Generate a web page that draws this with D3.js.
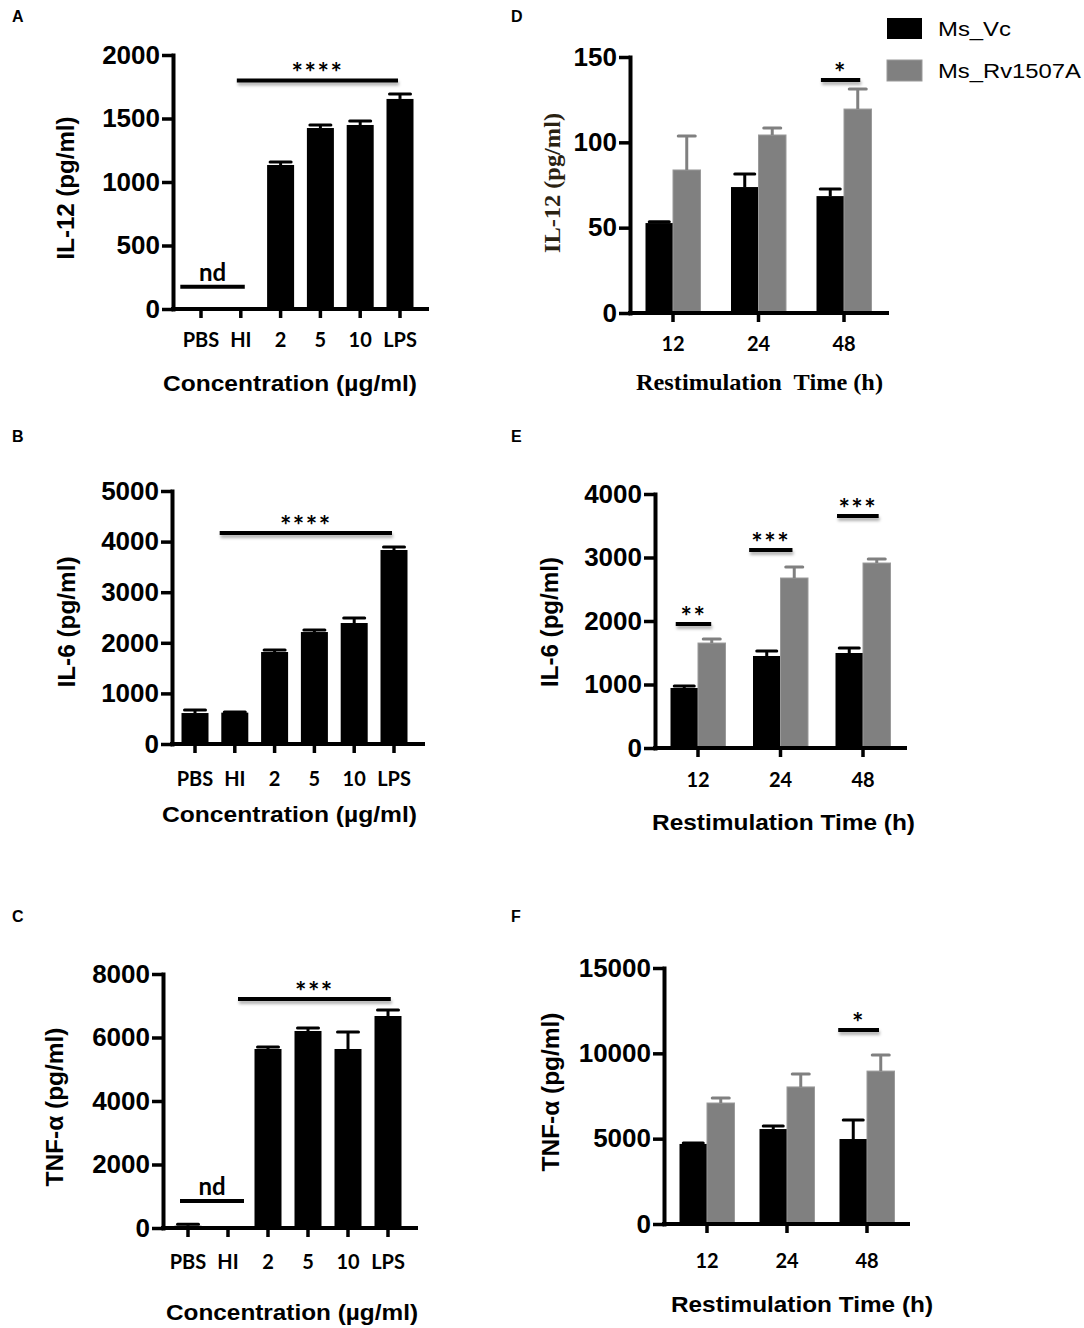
<!DOCTYPE html>
<html>
<head>
<meta charset="utf-8">
<script src="https://cdn.jsdelivr.net/npm/d3@7"></script>
<style>
  body { margin: 0; background: #fff; }
  svg { display: block; }
  .tick text { font-family: "Liberation Sans", Arial, sans-serif; font-weight: bold; }
</style>
</head>
<body>
<div id="chart"></div>
<script>
// ---- data ----
var concCats = ["PBS", "HI", "2", "5", "10", "LPS"];
var timeCats = ["12", "24", "48"];
var seriesNames = ["Ms_Vc", "Ms_Rv1507A"];

// A: IL-12 vs concentration
var il12Conc = [0, 0, 1134, 1425, 1449, 1654];
var il12ConcErr = [0, 0, 23, 24, 31, 39];
var il12Ticks = [0, 500, 1000, 1500, 2000];

// B: IL-6 vs concentration
var il6Conc = [612, 620, 1818, 2213, 2391, 3834];
var il6ConcErr = [60, 10, 40, 40, 99, 59];
var il6Ticks = [0, 1000, 2000, 3000, 4000, 5000];

// C: TNF-a vs concentration
var tnfConc = [70, 0, 5638, 6205, 5638, 6677];
var tnfConcErr = [50, 0, 62, 95, 535, 189];
var tnfTicks = [0, 2000, 4000, 6000, 8000];

// D: IL-12 vs time
var il12Vc = [52.7, 73.8, 68.5];
var il12VcErr = [0.8, 7.6, 4.1];
var il12Rv = [83.8, 104.3, 119.5];
var il12RvErr = [19.9, 4.1, 11.7];
var il12TimeTicks = [0, 50, 100, 150];

// E: IL-6 vs time
var il6Vc = [945, 1449, 1496];
var il6VcErr = [30, 79, 79];
var il6Rv = [1653, 2677, 2913];
var il6RvErr = [64, 173, 63];
var il6TimeTicks = [0, 1000, 2000, 3000, 4000];

// F: TNF-a vs time
var tnfVc = [4690, 5565, 4980];
var tnfVcErr = [60, 175, 1110];
var tnfRv = [7090, 8030, 8960];
var tnfRvErr = [290, 760, 940];
var tnfTimeTicks = [0, 5000, 10000, 15000];

// significance bars: x1/x2 in category index units, y in data units
var sigA = [{ x1: 0.9, x2: 4.95, y: 1800, label: "****" }, { x1: -0.52, x2: 1.1, y: 175, label: "nd" }];
var sigB = [{ x1: 0.62, x2: 4.95, y: 4170, label: "****" }];
var sigC = [{ x1: 1.25, x2: 5.07, y: 7213, label: "***" }, { x1: -0.2, x2: 1.4, y: 850, label: "nd" }];
var sigD = [{ x1: 1.73, x2: 2.19, y: 136.5, label: "*" }];
var sigE = [{ x1: -0.27, x2: 0.16, y: 1953, label: "**" },
            { x1: 0.62, x2: 1.145, y: 3118, label: "***" },
            { x1: 1.685, x2: 2.19, y: 3654, label: "***" }];
var sigF = [{ x1: 1.64, x2: 2.15, y: 11360, label: "*" }];

var colors = ["#000000", "#808080"];

// ---- drawing ----
var svg = d3.select("#chart").append("svg")
  .attr("width", 1084)
  .attr("height", 1328);

// user-space filter region, a horizontal line has a zero-height bbox
var defs = svg.append("defs");
defs.append("filter").attr("id", "shadow")
  .attr("filterUnits", "userSpaceOnUse")
  .attr("x", 0).attr("y", 0).attr("width", 1084).attr("height", 1328)
  .append("feDropShadow")
  .attr("dx", 1).attr("dy", 3).attr("stdDeviation", 1.4)
  .attr("flood-color", "#000").attr("flood-opacity", 0.3);

var sansFont = "'Liberation Sans', Arial, sans-serif";
var labelFont = "Lato, 'Open Sans', sans-serif";
var serifFont = "'Liberation Serif', 'Times New Roman', serif";

function bandFor(cats, first, last, bw) {
  var step = (last - first) / (cats.length - 1);
  var p = 1 - bw / step;
  return d3.scaleBand().domain(cats)
    .range([first - step / 2, last + step / 2])
    .paddingInner(p).paddingOuter(p / 2);
}

function drawAxes(g, p, x, y) {
  // y axis
  var yAxis = g.append("g")
    .attr("transform", `translate(${p.yAxisX},0)`)
    .call(d3.axisLeft(y).tickValues(p.ticks).tickSize(11).tickSizeOuter(0).tickPadding(2)
      .tickFormat(d3.format("d")));
  yAxis.select(".domain").attr("stroke-width", 4).attr("stroke-linecap", "square");
  yAxis.selectAll(".tick line").attr("stroke-width", 3.5);
  yAxis.selectAll(".tick text").attr("font-size", 26).attr("fill", "#000");

  // x axis
  var xAxis = g.append("g")
    .attr("transform", `translate(0,${p.y0})`)
    .call(d3.axisBottom(x).tickSize(9).tickSizeOuter(0));
  xAxis.select(".domain").remove();
  xAxis.selectAll(".tick line").attr("stroke-width", 3.5);
  xAxis.selectAll(".tick text")
    .attr("y", p.labelDy).attr("dy", 0)
    .style("font-family", labelFont).style("font-weight", 700)
    .attr("font-size", 20).attr("fill", "#000");
  g.append("line")
    .attr("x1", p.yAxisX).attr("x2", p.xRight)
    .attr("y1", p.y0).attr("y2", p.y0)
    .attr("stroke", "#000").attr("stroke-width", 4).attr("stroke-linecap", "square");
}

function drawTitles(g, p) {
  g.append("text")
    .attr("x", p.panelX).attr("y", p.panelY)
    .style("font-family", sansFont).style("font-weight", "bold")
    .attr("font-size", 16).text(p.letter);

  g.append("text")
    .attr("x", p.xt[0]).attr("y", p.xt[1])
    .attr("textLength", p.xt[2]).attr("lengthAdjust", "spacingAndGlyphs")
    .style("font-family", p.serif ? serifFont : sansFont).style("font-weight", "bold")
    .attr("font-size", p.serif ? 23 : 22)
    .attr("xml:space", "preserve")
    .text(p.xTitle);

  g.append("text")
    .attr("transform", `translate(${p.yt[0]},${p.yt[1]}) rotate(-90)`)
    .attr("text-anchor", "middle")
    .attr("textLength", p.yt[2]).attr("lengthAdjust", "spacingAndGlyphs")
    .style("font-family", p.serif ? serifFont : sansFont).style("font-weight", "bold")
    .attr("font-size", 24)
    .attr("fill", p.serif ? "#2a2212" : "#000")
    .text(p.yTitle);
}

function drawSig(g, sigs, xi, y) {
  sigs.forEach(function (s) {
    var yy = y(s.y);
    g.append("line")
      .attr("x1", xi(s.x1)).attr("x2", xi(s.x2))
      .attr("y1", yy).attr("y2", yy)
      .attr("stroke", "#000").attr("stroke-width", 4)
      .attr("filter", s.label === "nd" ? null : "url(#shadow)");
    var t = g.append("text")
      .attr("x", (xi(s.x1) + xi(s.x2)) / 2)
      .attr("text-anchor", "middle")
      .style("font-family", labelFont).style("font-weight", 700)
      .text(s.label);
    if (s.label === "nd") {
      t.attr("y", yy - 6).attr("font-size", 24);
    } else {
      t.attr("y", yy + 2).attr("font-size", 27).attr("letter-spacing", 1.5);
    }
  });
}

function errBar(g, cx, yTop, yEnd, color, capW) {
  g.append("line")
    .attr("x1", cx).attr("x2", cx).attr("y1", yTop).attr("y2", yEnd)
    .attr("stroke", color).attr("stroke-width", 3);
  g.append("line")
    .attr("x1", cx - capW / 2).attr("x2", cx + capW / 2).attr("y1", yEnd).attr("y2", yEnd)
    .attr("stroke", color).attr("stroke-width", 3).attr("stroke-linecap", "round");
}

function drawSingle(p) {
  var g = svg.append("g");
  var x = bandFor(p.cats, p.first, p.last, 27);
  var xi = d3.scaleLinear().domain([0, p.cats.length - 1]).range([p.first, p.last]);
  var y = d3.scaleLinear().domain([0, d3.max(p.ticks)]).range([p.y0, p.yTop]);

  var data = p.cats.map(function (c, i) { return { cat: c, v: p.values[i], e: p.errs[i] }; });

  g.selectAll("rect.bar").data(data).enter().append("rect")
    .attr("class", "bar")
    .attr("x", d => x(d.cat))
    .attr("width", x.bandwidth())
    .attr("y", d => y(d.v))
    .attr("height", d => y(0) - y(d.v))
    .attr("fill", "#000");

  data.forEach(function (d) {
    if (d.e > 0) errBar(g, x(d.cat) + x.bandwidth() / 2, y(d.v), y(d.v + d.e), "#000", 21);
  });

  drawAxes(g, p, x, y);
  drawSig(g, p.sig, xi, y);
  drawTitles(g, p);
}

function drawGrouped(p) {
  var g = svg.append("g");
  var x = bandFor(p.cats, p.first, p.last, 55);
  var xs = d3.scaleBand().domain(seriesNames).range([0, x.bandwidth()]).padding(0);
  var xi = d3.scaleLinear().domain([0, p.cats.length - 1]).range([p.first, p.last]);
  var y = d3.scaleLinear().domain([0, d3.max(p.ticks)]).range([p.y0, p.yTop]);

  var data = [];
  p.cats.forEach(function (c, i) {
    data.push({ cat: c, s: seriesNames[0], v: p.vc[i], e: p.vcErr[i], k: 0 });
    data.push({ cat: c, s: seriesNames[1], v: p.rv[i], e: p.rvErr[i], k: 1 });
  });

  g.selectAll("rect.bar").data(data).enter().append("rect")
    .attr("class", "bar")
    .attr("x", d => x(d.cat) + xs(d.s))
    .attr("width", xs.bandwidth())
    .attr("y", d => y(d.v))
    .attr("height", d => y(0) - y(d.v))
    .attr("fill", d => colors[d.k])
    .attr("stroke", d => d.k ? "#9a9a9a" : "none")
    .attr("stroke-width", 1);

  data.forEach(function (d) {
    errBar(g, x(d.cat) + xs(d.s) + xs.bandwidth() / 2, y(d.v), y(d.v + d.e),
      d.k ? "#808080" : "#000", d.k ? 17 : 20);
  });

  drawAxes(g, p, x, y);
  drawSig(g, p.sig, xi, y);
  drawTitles(g, p);
}

drawSingle({
  letter: "A", panelX: 12, panelY: 22,
  cats: concCats, values: il12Conc, errs: il12ConcErr, ticks: il12Ticks, sig: sigA,
  yAxisX: 173, xRight: 427, y0: 309, yTop: 55, first: 201, last: 400, labelDy: 38,
  xTitle: "Concentration (\u00b5g/ml)", xt: [163, 391, 254],
  yTitle: "IL-12 (pg/ml)", yt: [74, 188, 143]
});

drawSingle({
  letter: "B", panelX: 12, panelY: 442,
  cats: concCats, values: il6Conc, errs: il6ConcErr, ticks: il6Ticks, sig: sigB,
  yAxisX: 172, xRight: 423, y0: 744, yTop: 491, first: 195, last: 394, labelDy: 42,
  xTitle: "Concentration (\u00b5g/ml)", xt: [162, 822, 255],
  yTitle: "IL-6 (pg/ml)", yt: [75, 622, 131]
});

drawSingle({
  letter: "C", panelX: 12, panelY: 922,
  cats: concCats, values: tnfConc, errs: tnfConcErr, ticks: tnfTicks, sig: sigC,
  yAxisX: 163, xRight: 416, y0: 1228, yTop: 974, first: 188, last: 388, labelDy: 41,
  xTitle: "Concentration (\u00b5g/ml)", xt: [166, 1320, 252],
  yTitle: "TNF-\u03b1 (pg/ml)", yt: [63, 1107, 159]
});

drawGrouped({
  letter: "D", panelX: 511, panelY: 22, serif: true,
  cats: timeCats, vc: il12Vc, vcErr: il12VcErr, rv: il12Rv, rvErr: il12RvErr,
  ticks: il12TimeTicks, sig: sigD,
  yAxisX: 630, xRight: 887, y0: 313, yTop: 57, first: 673, last: 844, labelDy: 38,
  xTitle: "Restimulation  Time (h)", xt: [636, 390, 247],
  yTitle: "IL-12 (pg/ml)", yt: [560, 183, 140]
});

drawGrouped({
  letter: "E", panelX: 511, panelY: 442,
  cats: timeCats, vc: il6Vc, vcErr: il6VcErr, rv: il6Rv, rvErr: il6RvErr,
  ticks: il6TimeTicks, sig: sigE,
  yAxisX: 655, xRight: 905, y0: 748, yTop: 494, first: 698, last: 863, labelDy: 39,
  xTitle: "Restimulation Time (h)", xt: [652, 830, 263],
  yTitle: "IL-6 (pg/ml)", yt: [558, 622, 130]
});

drawGrouped({
  letter: "F", panelX: 511, panelY: 922,
  cats: timeCats, vc: tnfVc, vcErr: tnfVcErr, rv: tnfRv, rvErr: tnfRvErr,
  ticks: tnfTimeTicks, sig: sigF,
  yAxisX: 664, xRight: 908, y0: 1224, yTop: 968, first: 707, last: 867, labelDy: 44,
  xTitle: "Restimulation Time (h)", xt: [671, 1312, 262],
  yTitle: "TNF-\u03b1 (pg/ml)", yt: [559, 1092, 159]
});

// legend
var legend = svg.append("g");
var legendLen = [73, 143];
seriesNames.forEach(function (name, i) {
  legend.append("rect")
    .attr("x", 887).attr("y", 18 + i * 42)
    .attr("width", 35).attr("height", 21)
    .attr("fill", colors[i])
    .attr("stroke", i ? "#9a9a9a" : "none");
  legend.append("text")
    .attr("x", 938).attr("y", 36 + i * 42)
    .attr("textLength", legendLen[i]).attr("lengthAdjust", "spacingAndGlyphs")
    .style("font-family", sansFont)
    .attr("font-size", 20)
    .text(name);
});
</script>
</body>
</html>
